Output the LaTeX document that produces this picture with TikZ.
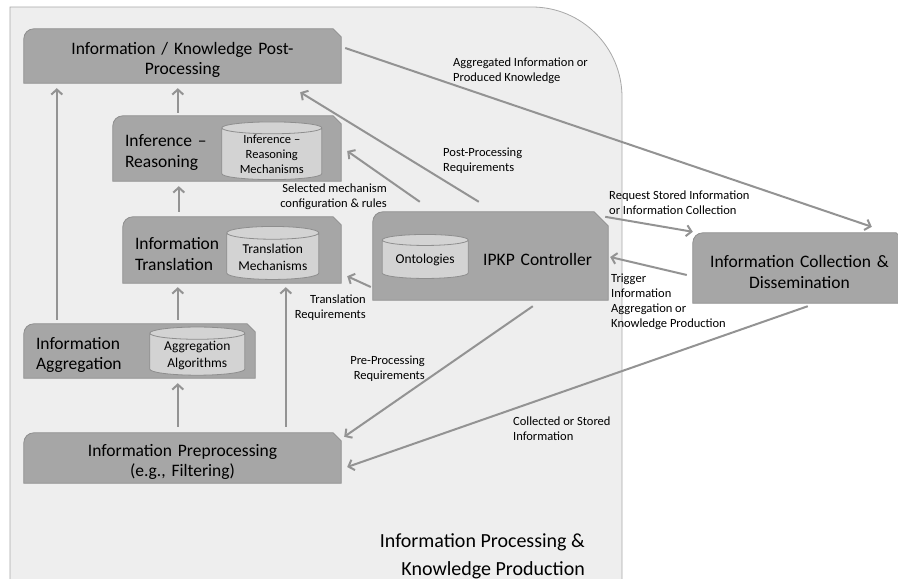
\documentclass[tikz,border=0pt]{standalone}
\usepackage{fontspec}
\setmainfont{Carlito}
\usetikzlibrary{positioning,shapes.geometric,arrows.meta,backgrounds}

\definecolor{bggray}{HTML}{EEEEEE}
\definecolor{edgegray}{HTML}{A8A8A8}
\definecolor{boxgray}{HTML}{A6A6A6}
\definecolor{boxedge}{HTML}{8E8E8E}
\definecolor{dbgray}{HTML}{D3D3D3}
\definecolor{arrowgray}{HTML}{939393}

\tikzset{
  box/.style={inner xsep=12pt, inner ysep=0pt, font=\fontsize{17.5}{20.5}\selectfont,
    execute at begin node={\rule{0pt}{20pt}}},
  boxshape/.style={fill=boxgray, draw=boxedge, line width=0.8pt},
  db/.style={cylinder, shape border rotate=90, aspect=0.18, draw=boxedge, fill=dbgray,
    line width=0.8pt, inner sep=1pt, align=center, font=\fontsize{13.5}{17}\selectfont},
  flow/.style={draw=arrowgray, line width=2pt, -{Straight Barb[length=5pt,width=11pt]}},
  lbl/.style={inner sep=0pt, align=left, font=\fontsize{12.5}{15}\selectfont}
}

\begin{document}
\begin{tikzpicture}[x=1pt, y=-1pt]

\useasboundingbox (0,0) rectangle (898,579);

% 左边的处理模块
\node[box, text width=293pt, minimum height=54pt, align=center] (post) at (182.5,56) {Information / Knowledge Post-\\Processing};
\node[box, text width=204pt, minimum height=65pt, align=left] (infer) at (227,148.5) {Inference –\\Reasoning};
\node[box, text width=194pt, minimum height=66pt, align=left] (trans) at (232,250) {Information\\Translation};
\node[box, text width=207pt, minimum height=54pt, align=left] (aggr) at (139.5,351) {Information\\Aggregation};
\node[box, text width=293pt, minimum height=50pt, align=center] (prep) at (182.5,458) {Information Preprocessing\\(e.g., Filtering)};

% 控制器和外部模块
\node[box, inner xsep=16pt, text width=203pt, minimum height=88pt, align=right] (ctrl) at (490.5,256) {IPKP Controller};
\node[box, text width=189pt, minimum height=70pt, align=center] (coll) at (799.5,268) {Information Collection \&\\Dissemination};

% 数据库
\node[db, font=\fontsize{12.5}{15}\selectfont, minimum width=100pt, minimum height=52pt, left=19pt of infer.east, yshift=-6pt] (inferdb) {Inference –\\Reasoning\\Mechanisms};
\node[db, minimum width=92pt, minimum height=53pt, left=22pt of trans.east, yshift=-7pt] (transdb) {Translation\\Mechanisms};
\node[db, minimum width=95pt, minimum height=45pt, left=10pt of aggr.east, yshift=-4pt] (aggrdb) {Aggregation\\Algorithms};
\node[db, minimum width=86pt, minimum height=44pt, right=9pt of ctrl.west, yshift=-4pt] (ontodb) {Ontologies};

% 背景和方框
\begin{scope}[on background layer]
  \filldraw[fill=bggray, draw=edgegray, line width=0.8pt] (10,590) -- (10,7) -- (532,7) arc[start angle=90, end angle=0, radius=90pt] -- (622,590);
  \foreach \n/\s in {post/8, infer/8, trans/8, aggr/8, prep/8, ctrl/14, coll/10} {
    \filldraw[boxshape] (\n.south west) -- ([yshift=-10pt]\n.north west)
      arc[start angle=180, end angle=90, radius=10pt]
      -- ([xshift=-\s pt]\n.north east) -- ([yshift=-\s pt]\n.north east)
      -- (\n.south east) -- cycle;
  }
\end{scope}

% 竖直箭头
\draw[flow] ([xshift=33pt,yshift=4pt]aggr.north west) -- ([xshift=33pt,yshift=-5pt]post.south west);
\draw[flow] ([xshift=154pt,yshift=4pt]aggr.north west) -- ([xshift=55pt,yshift=-4pt]trans.south west);
\draw[flow] ([xshift=56pt,yshift=5pt]trans.north west) -- ([xshift=66pt,yshift=-5pt]infer.south west);
\draw[flow] ([xshift=65pt,yshift=3pt]infer.north west) -- ([xshift=154pt,yshift=-5pt]post.south west);
\draw[flow] ([xshift=154pt,yshift=6pt]prep.north west) -- ([xshift=154pt,yshift=-5pt]aggr.south west);
\draw[flow] ([xshift=262pt,yshift=6pt]prep.north west) -- ([xshift=163pt,yshift=-4pt]trans.south west);

% 斜向箭头
\draw[flow] ([xshift=106pt,yshift=10pt]ctrl.north west) -- ([xshift=-41pt,yshift=-9pt]post.south east);
\draw[flow] ([xshift=47pt,yshift=10pt]ctrl.north west) -- ([xshift=6pt,yshift=-2.5pt]infer.east);
\draw[flow] ([xshift=-2pt,yshift=-31pt]ctrl.west) -- ([xshift=6pt,yshift=7pt]trans.south east);
\draw[flow] ([xshift=160pt,yshift=-6pt]ctrl.south west) -- ([xshift=3pt,yshift=-4pt]prep.north east);
\draw[flow] ([xshift=115pt,yshift=-3pt]coll.south west) -- ([xshift=6pt,yshift=-9pt]prep.east);
\draw[flow] ([xshift=-6pt,yshift=-7pt]coll.west) -- ([xshift=2pt,yshift=-1pt]ctrl.east);
\draw[flow] ([xshift=-3pt,yshift=-5pt]ctrl.north east) -- ([yshift=1pt]coll.north west);
\draw[flow] ([xshift=4pt,yshift=8pt]post.east) -- ([xshift=179pt,yshift=6pt]coll.north west);

% 箭头上的文字
\node[lbl, anchor=west] (laggr) at (453,70.5) {Aggregated Information or\\Produced Knowledge};
\node[lbl, anchor=west] (lpost) at (443,161) {Post-Processing\\Requirements};
\node[lbl, anchor=east, align=right] (lsel) at (387,196.5) {Selected mechanism\\configuration \& rules};
\node[lbl, anchor=west] (lreq) at (609,202.5) {Request Stored Information\\or Information Collection};
\node[lbl, anchor=west] (ltrig) at (611,301.5) {Trigger\\Information\\Aggregation or\\Knowledge Production};
\node[lbl, anchor=east, align=right] (ltrans) at (366,307.5) {Translation\\Requirements};
\node[lbl, anchor=east, align=right] (lpre) at (425,368.5) {Pre-Processing\\Requirements};
\node[lbl, anchor=west] (lcoll) at (513,429) {Collected or Stored\\Information};
\node[inner sep=0pt, align=right, anchor=east, font=\fontsize{20}{28}\selectfont] (larea) at (585,556) {Information Processing \&\\Knowledge Production};

\end{tikzpicture}
\end{document}
